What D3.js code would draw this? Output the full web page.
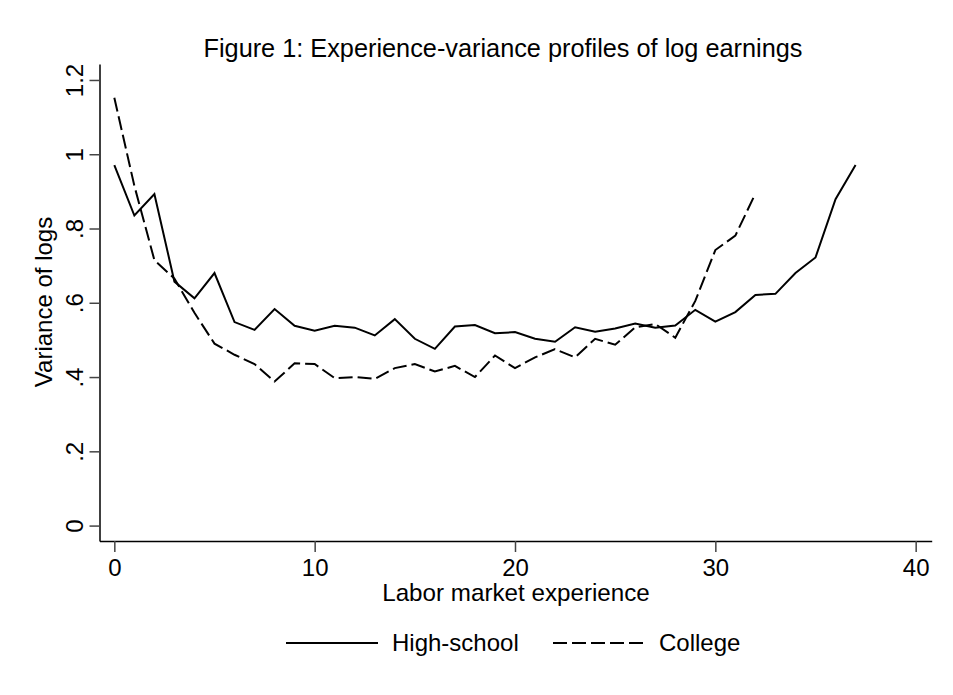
<!DOCTYPE html>
<html>
<meta charset="utf-8">
<style>
body { margin: 0; background: #fff; }
svg { font-family: "Liberation Sans", Arial, sans-serif; }
.line { fill: none; stroke: #000; stroke-width: 2px; stroke-linejoin: miter; }
.axis path { stroke: #000; stroke-width: 1.5px; }
.axis line { stroke: #444; stroke-width: 1.5px; }
.axis text { font-size: 24px; fill: #000; }
</style>
<body>
<script src="https://d3js.org/d3.v7.min.js"></script>
<script>
// experience years (0..37 for high school, 0..32 for college)
var years = d3.range(0, 38);
var highSchool = [0.971, 0.835, 0.893, 0.657, 0.612, 0.680, 0.548, 0.527, 0.583, 0.538,
	0.525, 0.538, 0.533, 0.512, 0.556, 0.503, 0.476, 0.536, 0.540, 0.518,
	0.521, 0.503, 0.495, 0.534, 0.522, 0.531, 0.544, 0.533, 0.539, 0.581,
	0.549, 0.575, 0.621, 0.624, 0.680, 0.722, 0.879, 0.971];
var college = [1.152, 0.915, 0.715, 0.665, 0.573, 0.490, 0.460, 0.435, 0.388, 0.437,
	0.435, 0.397, 0.400, 0.395, 0.424, 0.435, 0.415, 0.430, 0.400, 0.458,
	0.424, 0.453, 0.475, 0.453, 0.503, 0.487, 0.534, 0.543, 0.506, 0.605,
	0.742, 0.781, 0.894];
var xTicks = [0, 10, 20, 30, 40];
var yTicks = [0, 0.2, 0.4, 0.6, 0.8, 1, 1.2];
var yTickLabels = ["0", ".2", ".4", ".6", ".8", "1", "1.2"];
var seriesNames = ["High-school", "College"];

var W = 953, H = 695;
var svg = d3.select("body").append("svg")
	.attr("width", W)
	.attr("height", H);

var x = d3.scaleLinear().domain([-0.74, 40.8]).range([99.5, 931.7]);
var y = d3.scaleLinear().domain([-0.0415, 1.243]).range([541, 64]);

// y axis
svg.append("g")
	.attr("class", "axis")
	.attr("transform", "translate(99.5,0)")
	.call(d3.axisLeft(y).tickValues(yTicks).tickSizeInner(10).tickSizeOuter(0)
		.tickFormat(function(d, i) { return yTickLabels[i]; }))
	.call(function(g) {
		g.selectAll(".tick text")
			.attr("x", 0).attr("dy", 0)
			.attr("transform", "translate(-17,0) rotate(-90)")
			.attr("text-anchor", "middle");
	});

// x axis
svg.append("g")
	.attr("class", "axis")
	.attr("transform", "translate(0,541)")
	.call(d3.axisBottom(x).tickValues(xTicks).tickSizeInner(11).tickSizeOuter(0))
	.call(function(g) {
		g.selectAll(".tick text").attr("y", 35).attr("dy", 0);
	});

var line = d3.line()
	.x(function(d, i) { return x(years[i]); })
	.y(function(d) { return y(d); });

svg.append("path")
	.attr("class", "line")
	.attr("d", line(highSchool));

svg.append("path")
	.attr("class", "line")
	.style("stroke-dasharray", "14,5")
	.attr("d", line(college));

// titles
svg.append("text")
	.attr("x", 503).attr("y", 57)
	.attr("text-anchor", "middle")
	.attr("font-size", "25.3px")
	.text("Figure 1: Experience-variance profiles of log earnings");

svg.append("text")
	.attr("x", 516).attr("y", 601)
	.attr("text-anchor", "middle")
	.attr("font-size", "24.2px")
	.text("Labor market experience");

svg.append("text")
	.attr("transform", "translate(52,302) rotate(-90)")
	.attr("text-anchor", "middle")
	.attr("font-size", "24px")
	.text("Variance of logs");

// legend
var legend = svg.append("g").attr("transform", "translate(0,643)");
var legendX = [286, 553];
seriesNames.forEach(function(name, i) {
	var lg = legend.append("g").attr("transform", "translate(" + legendX[i] + ",0)");
	lg.append("line")
		.attr("class", "line")
		.attr("x1", 0).attr("x2", 92)
		.attr("y1", 0).attr("y2", 0)
		.style("stroke-dasharray", i == 1 ? "14,5" : null);
	lg.append("text")
		.attr("x", 106).attr("y", 8)
		.attr("font-size", "24px")
		.text(name);
});
</script>
</body>
</html>
